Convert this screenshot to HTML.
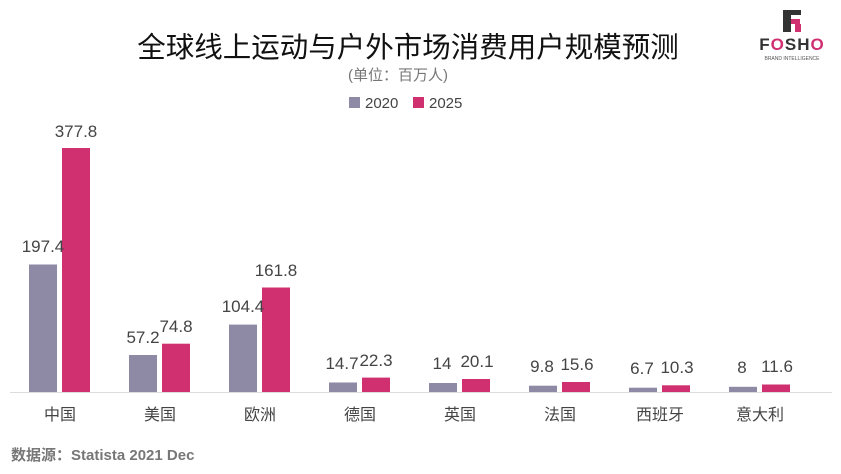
<!DOCTYPE html><html><head><meta charset="utf-8"><style>body{margin:0;background:#fff}svg{display:block}</style></head><body>
<svg width="841" height="474" xmlns="http://www.w3.org/2000/svg" font-family="Liberation Sans, Noto Sans CJK SC, sans-serif">
<text x="408" y="57" font-size="28.5" text-anchor="middle" fill="#111">全球线上运动与户外市场消费用户规模预测</text>
<text x="398" y="80" font-size="15" text-anchor="middle" fill="#777">(单位：百万人)</text>
<rect x="349" y="97" width="11" height="11" fill="#8e8aa6"/><text x="365" y="108" font-size="15" fill="#444">2020</text>
<rect x="413" y="97" width="11" height="11" fill="#d0306f"/><text x="429" y="108" font-size="15" fill="#444">2025</text>
<g transform="translate(783,10)"><rect x="0" y="0" width="8" height="22" fill="#333"/><rect x="8" y="0" width="10" height="5" fill="#333"/><rect x="8" y="9" width="9" height="5" fill="#d0306f"/><rect x="12" y="14" width="6" height="8" fill="#d0306f"/></g>
<text x="792" y="50" font-size="17" font-weight="bold" text-anchor="middle" fill="#333" letter-spacing="1">F<tspan fill="#d0306f">O</tspan>SH<tspan fill="#d0306f">O</tspan></text>
<text x="792" y="60" font-size="5" text-anchor="middle" fill="#555">BRAND INTELLIGENCE</text>
<line x1="10" y1="392.5" x2="832" y2="392.5" stroke="#ddd"/>
<g font-size="17" fill="#444" text-anchor="middle">
<rect x="29" y="264.5" width="28" height="127.5" fill="#8e8aa6"/><rect x="62" y="148" width="28" height="244" fill="#d0306f"/>
<text x="43" y="252">197.4</text><text x="76" y="137">377.8</text>
<rect x="129" y="355" width="28" height="37" fill="#8e8aa6"/><rect x="162" y="343.7" width="28" height="48.3" fill="#d0306f"/>
<text x="143" y="343">57.2</text><text x="176" y="332">74.8</text>
<rect x="229" y="324.6" width="28" height="67.4" fill="#8e8aa6"/><rect x="262" y="287.5" width="28" height="104.5" fill="#d0306f"/>
<text x="243" y="312">104.4</text><text x="276" y="276">161.8</text>
<rect x="329" y="382.5" width="28" height="9.5" fill="#8e8aa6"/><rect x="362" y="377.6" width="28" height="14.4" fill="#d0306f"/>
<text x="342" y="369">14.7</text><text x="376" y="366">22.3</text>
<rect x="429" y="383" width="28" height="9" fill="#8e8aa6"/><rect x="462" y="379" width="28" height="13" fill="#d0306f"/>
<text x="442" y="369">14</text><text x="477" y="367">20.1</text>
<rect x="529" y="385.7" width="28" height="6.3" fill="#8e8aa6"/><rect x="562" y="382" width="28" height="10" fill="#d0306f"/>
<text x="542" y="372">9.8</text><text x="577" y="370">15.6</text>
<rect x="629" y="387.7" width="28" height="4.3" fill="#8e8aa6"/><rect x="662" y="385.3" width="28" height="6.7" fill="#d0306f"/>
<text x="642" y="374">6.7</text><text x="677" y="373">10.3</text>
<rect x="729" y="386.8" width="28" height="5.2" fill="#8e8aa6"/><rect x="762" y="384.5" width="28" height="7.5" fill="#d0306f"/>
<text x="742" y="373">8</text><text x="777" y="372">11.6</text>
</g>
<g font-size="16" fill="#444" text-anchor="middle">
<text x="60" y="420">中国</text><text x="160" y="420">美国</text><text x="260" y="420">欧洲</text><text x="360" y="420">德国</text><text x="460" y="420">英国</text><text x="560" y="420">法国</text><text x="660" y="420">西班牙</text><text x="760" y="420">意大利</text>
</g>
<text x="11" y="460" font-size="15" font-weight="bold" fill="#777">数据源：Statista 2021 Dec</text>
</svg></body></html>
